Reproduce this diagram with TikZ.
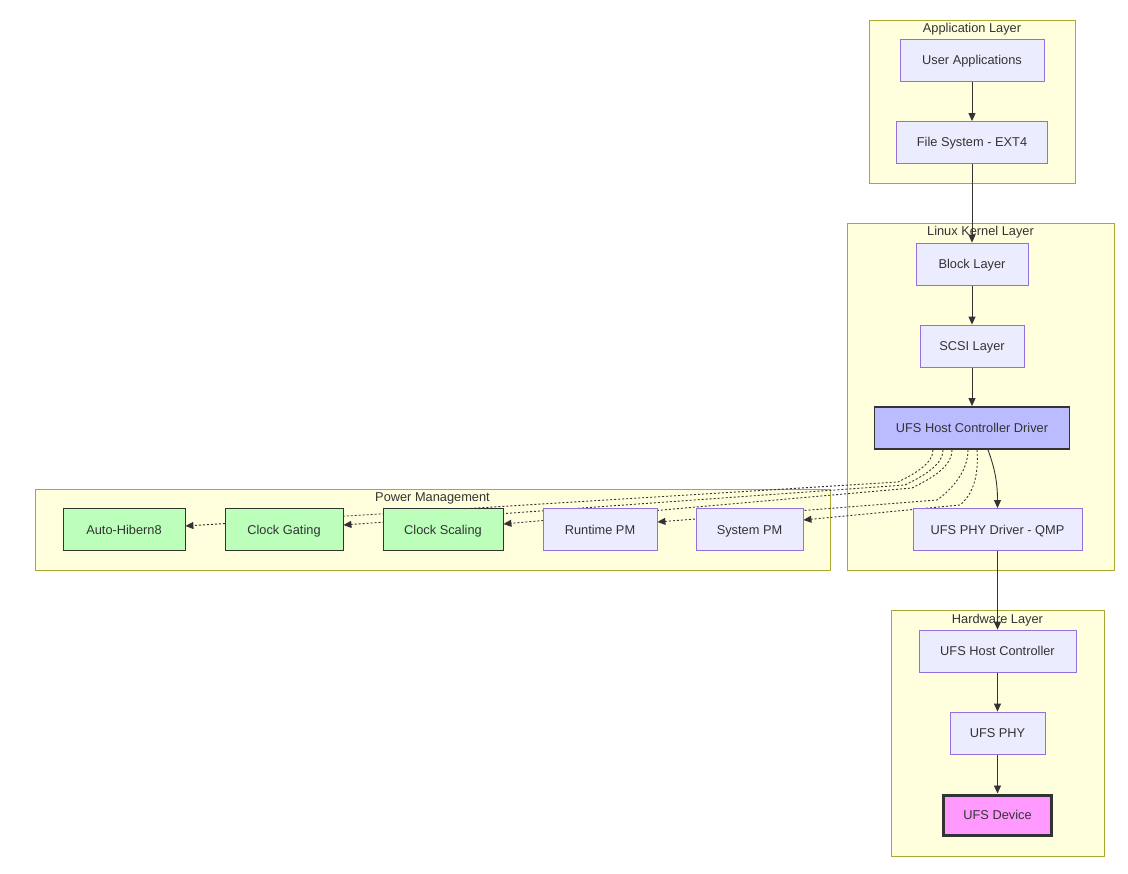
\documentclass[tikz,border=0pt]{standalone}
\usepackage{fontspec}
\setmainfont{Liberation Sans}
\usetikzlibrary{arrows.meta}
\definecolor{clfill}{HTML}{FFFFDE}
\definecolor{cldraw}{HTML}{AAAA33}
\definecolor{ndfill}{HTML}{ECECFF}
\definecolor{nddraw}{HTML}{9370DB}
\definecolor{txt}{HTML}{333333}
\definecolor{hcfill}{HTML}{BBBBFF}
\definecolor{grfill}{HTML}{BBFFBB}
\definecolor{pkfill}{HTML}{FF99FF}
\pgfdeclarelayer{bg}
\pgfdeclarelayer{edges}
\pgfsetlayers{bg,edges,main}
\begin{document}
\begin{tikzpicture}[x=1pt,y=-1pt,
  every node/.style={font=\fontsize{12.8}{15}\selectfont, text=txt},
  box/.style={draw=nddraw, fill=ndfill, line width=0.8pt, minimum height=42pt, inner sep=0pt, text height=9pt, text depth=0pt},
  hcbox/.style={box, draw=txt, fill=hcfill, line width=1.8pt},
  grbox/.style={box, draw=txt, fill=grfill, line width=0.8pt},
  devbox/.style={box, draw=txt, fill=pkfill, line width=3pt},
  cluster/.style={draw=cldraw, fill=clfill, line width=0.8pt, inner sep=0pt},
  clabel/.style={inner sep=0pt, anchor=center, text height=9pt, text depth=0pt},
  arr/.style={draw=txt, line width=0.9pt, -{Triangle[length=8pt,width=7pt]}},
  dotarr/.style={arr, dash pattern=on 2pt off 2pt}]
\useasboundingbox (0,0) rectangle (1128,874);
\begin{pgfonlayer}{bg}
\node[cluster, minimum width=206pt, minimum height=163pt] (appc) at (972,101.5) {};
\node[cluster, minimum width=267pt, minimum height=347pt] (kerc) at (980.5,396.5) {};
\node[cluster, minimum width=795pt, minimum height=81pt] (pmc) at (432.5,529.5) {};
\node[cluster, minimum width=213pt, minimum height=246pt] (hwc) at (997.5,733) {};
\end{pgfonlayer}
\node[clabel] (appl) at (972,28.5) {Application Layer};
\node[clabel] (kerl) at (980.5,231.5) {Linux Kernel Layer};
\node[clabel] (pml) at (432.5,497.5) {Power Management};
\node[clabel] (hwl) at (997.5,618.5) {Hardware Layer};

\node[box, minimum width=144pt] (ua) at (972,60.5) {User Applications};
\node[box, minimum width=151pt] (fs) at (972,142.5) {File System - EXT4};
\node[box, minimum width=112pt] (bl) at (972,264) {Block Layer};
\node[box, minimum width=104pt] (scsi) at (972,346) {SCSI Layer};
\node[hcbox, minimum width=195pt] (hcd) at (972,428) {UFS Host Controller Driver};
\node[box, minimum width=169pt] (phyd) at (997.5,529.5) {UFS PHY Driver - QMP};
\node[grbox, minimum width=122pt] (ah) at (124,529.5) {Auto-Hibern8};
\node[grbox, minimum width=118pt] (cg) at (284,529.5) {Clock Gating};
\node[grbox, minimum width=120pt] (cs) at (443,529.5) {Clock Scaling};
\node[box, minimum width=114pt] (rpm) at (600,529.5) {Runtime PM};
\node[box, minimum width=107pt] (spm) at (749.5,529.5) {System PM};
\node[box, minimum width=157pt] (uhc) at (997.5,651) {UFS Host Controller};
\node[box, minimum width=95pt] (uphy) at (997.5,733) {UFS PHY};
\node[devbox, minimum width=108pt, minimum height=40pt] (dev) at (997.5,815) {UFS Device};

\coordinate (kah) at (898,482);
\coordinate (kcg) at (905,485);
\coordinate (kcs) at (912,488);
\coordinate (krpm) at (937,500);
\coordinate (kspm) at (960,505);

\begin{pgfonlayer}{edges}
\draw[arr] (ua) -- (fs);
\draw[arr] (fs) -- (bl);
\draw[arr] (bl) -- (scsi);
\draw[arr] (scsi) -- (hcd);
\draw[arr] ([xshift=16pt]hcd.south) .. controls +(5,14) and +(0,-30) .. (phyd.north);
\draw[arr] (phyd) -- (uhc);
\draw[arr] (uhc) -- (uphy);
\draw[arr] (uphy) -- (dev);
\draw[dotarr] ([xshift=-39pt]hcd.south) .. controls +(0,14) and +(16,-8) .. (kah) -- ([yshift=3.5pt]ah.east);
\draw[dotarr] ([xshift=-29pt]hcd.south) .. controls +(0,16) and +(16,-8) .. (kcg) -- ([yshift=4.5pt]cg.east);
\draw[dotarr] ([xshift=-20pt]hcd.south) .. controls +(0,18) and +(16,-8) .. (kcs) -- ([yshift=5.5pt]cs.east);
\draw[dotarr] ([xshift=-4pt]hcd.south) .. controls +(0,22) and +(14,-10) .. (krpm) -- ([yshift=7.5pt]rpm.east);
\draw[dotarr] ([xshift=5pt]hcd.south) .. controls +(2,28) and +(12,-10) .. (kspm) -- ([yshift=9.5pt]spm.east);
\end{pgfonlayer}
\end{tikzpicture}
\end{document}
